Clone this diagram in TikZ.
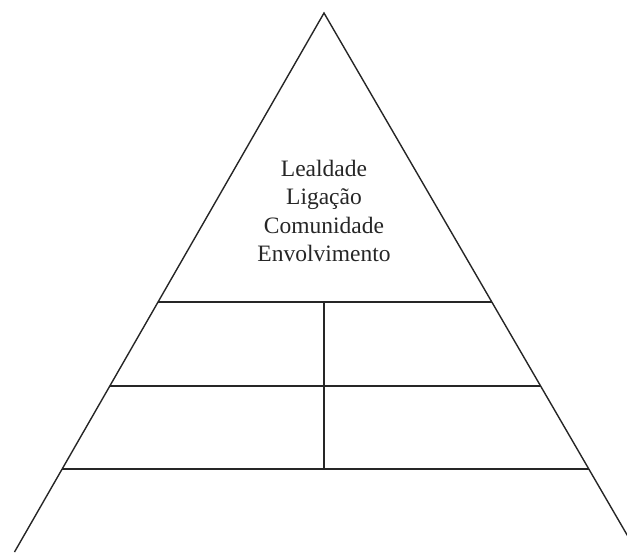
\documentclass[tikz,border=0pt]{standalone}
\usepackage{fontspec}
\setmainfont{Liberation Serif}
\begin{document}
\begin{tikzpicture}[x=1pt,y=-1pt,
  edge/.style={line width=1.4pt,draw=black!85},
  label/.style={align=center,font=\fontsize{23.5}{28.3}\selectfont,text=black!85,inner sep=0pt}]
\useasboundingbox (0,0) rectangle (627,552);
\clip (0,0) rectangle (627,552);
\coordinate (apex) at (324,13);
\coordinate (bl) at (14.5,552);
\coordinate (br) at (637,552);
\draw[edge] (bl) -- (apex) -- (br);
\path (apex) -- (bl) coordinate[pos=0.5362] (l1) coordinate[pos=0.6920] (l2) coordinate[pos=0.8460] (l3);
\path (apex) -- (br) coordinate[pos=0.5362] (r1) coordinate[pos=0.6920] (r2) coordinate[pos=0.8460] (r3);
\draw[edge] (l1) -- (r1);
\draw[edge] (l2) -- (r2);
\draw[edge] (l3) -- (r3);
\coordinate (vt) at (324,302);
\coordinate (vb) at (324,469);
\draw[edge] (vt) -- (vb);
\node[label] (txt) at (324,211) {Lealdade\\Ligação\\Comunidade\\Envolvimento};
\end{tikzpicture}
\end{document}
